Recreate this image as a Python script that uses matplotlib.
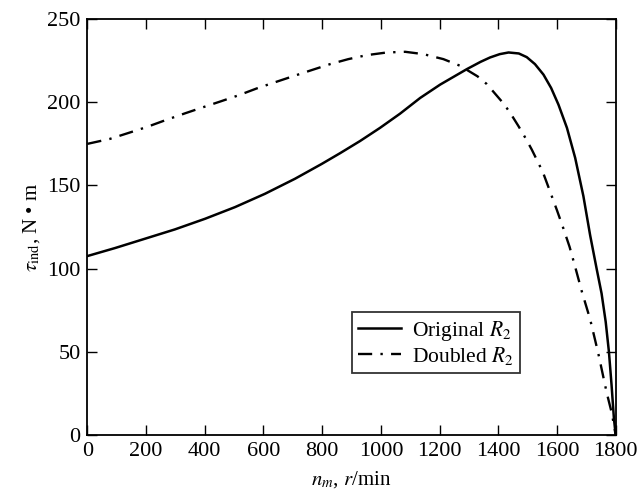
import numpy as np
import matplotlib.pyplot as plt

plt.rcParams['font.family'] = ['Liberation Serif', 'DejaVu Serif']
plt.rcParams['mathtext.fontset'] = 'stix'

# values (speed in r/min, torque in N*m)
speed_orig = [0, 94, 196, 298, 401, 503, 605, 707, 798, 861, 929, 997, 1065, 1134,
              1202, 1293, 1340, 1372, 1405, 1435, 1470, 1497, 1525, 1554, 1580,
              1605, 1634, 1662, 1690, 1713, 1735, 1752, 1766, 1777, 1786, 1794, 1800]
torque_orig = [107.5, 112.3, 117.9, 123.5, 129.9, 136.9, 144.9, 153.9, 162.8, 169.3,
               176.6, 184.5, 193, 202.5, 210.5, 219.8, 224.2, 226.8, 228.8, 229.8,
               229.2, 227, 222.8, 216.5, 208.5, 198.5, 184.5, 166.5, 143.5, 120,
               100, 85, 68, 50, 30, 10, 0]

speed_dbl = [0, 77, 139, 202, 264, 332, 389, 452, 514, 577, 639, 702, 764, 827, 889,
             952, 1020, 1083, 1145, 1213, 1270, 1329, 1361, 1421, 1446, 1469, 1494,
             1514, 1552, 1577, 1600, 1622, 1643, 1662, 1685, 1702, 1713, 1730, 1742,
             1759, 1770, 1787, 1800]
torque_dbl = [174.9, 177.9, 181.4, 185, 189, 193.2, 196.6, 200.3, 204, 208.2,
              211.9, 215.6, 219.2, 222.8, 225.8, 228.2, 229.8, 230.2, 228.8, 225.8,
              221.8, 215.5, 210.8, 198.5, 192, 185.5, 178, 171.5, 157.9, 146,
              135, 124, 113, 101, 86, 76, 69.5, 57, 48, 34, 25, 13, 0]

x_ticks = [0, 200, 400, 600, 800, 1000, 1200, 1400, 1600, 1800]
y_ticks = [0, 50, 100, 150, 200, 250]

fig = plt.figure(figsize=(6.38, 4.96), dpi=100)
ax = fig.add_axes([0.137, 0.123, 0.828, 0.839])

ax.plot(speed_orig, torque_orig, color='black', lw=1.8, label='Original $R_2$')
ax.plot(speed_dbl, torque_dbl, color='black', lw=1.7,
        linestyle=(0, (6, 3.5, 1, 3.5)), label='Doubled $R_2$')

ax.set_xlim(0, 1800)
ax.set_ylim(0, 250)
ax.set_xticks(x_ticks)
ax.set_yticks(y_ticks)
ax.tick_params(direction='in', top=True, right=True, length=7, width=1,
               labelsize=16, pad=5)
for s in ax.spines.values():
    s.set_linewidth(1.3)

ax.set_xlabel('$n_m$, $r$/min', fontsize=15, labelpad=6)
ax.set_ylabel('$\\tau_{\\rm ind}$, N \u2022 m', fontsize=15, labelpad=4)

leg = ax.legend(loc='lower left', bbox_to_anchor=(0.5, 0.148), fontsize=15.5,
                frameon=True, fancybox=False, edgecolor='black',
                handlelength=2.0, borderpad=0.3, labelspacing=0.1,
                handletextpad=0.5, borderaxespad=0)
leg.get_frame().set_linewidth(1.3)

fig.savefig('out.png', dpi=100)
